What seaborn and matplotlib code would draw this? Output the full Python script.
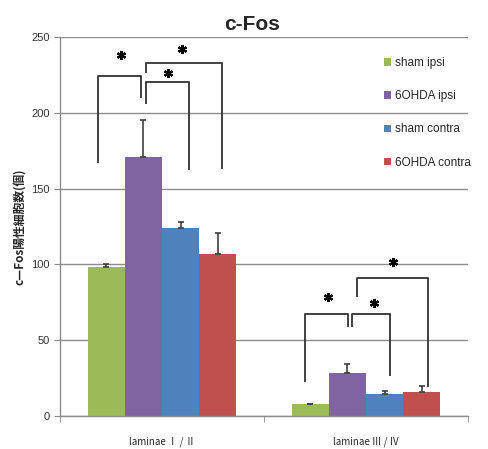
import matplotlib
matplotlib.use("Agg")
import matplotlib.pyplot as plt
import seaborn as sns
import pandas as pd
import numpy as np
from matplotlib.patches import Patch

categories = ["laminae Ⅰ / Ⅱ", "laminae Ⅲ / Ⅳ"]
groups = ["sham ipsi", "6OHDA ipsi", "sham contra", "6OHDA contra"]
sham_ipsi = [98, 7.7]
ohda_ipsi = [171, 28.6]
sham_contra = [124, 14.8]
ohda_contra = [107, 16]
err_sham_ipsi = [2, 0.5]
err_ohda_ipsi = [24, 6]
err_sham_contra = [4, 2]
err_ohda_contra = [14, 4]
colors = ["#9BBB59", "#8064A2", "#4F81BD", "#C0504D"]

values = [sham_ipsi, ohda_ipsi, sham_contra, ohda_contra]
errors = [err_sham_ipsi, err_ohda_ipsi, err_sham_contra, err_ohda_contra]
rows = []
for g, vals in zip(groups, values):
    for c, v in zip(categories, vals):
        rows.append({"cat": c, "group": g, "value": v})
df = pd.DataFrame(rows)

sns.set_style("white")
plt.rcParams["font.family"] = ["Liberation Sans", "DejaVu Sans", "Noto Sans CJK JP"]

fig = plt.figure(figsize=(4.89, 4.49), dpi=100)
ax = fig.add_axes([60/489, 1-416/449, 408/489, 379/449])

sns.barplot(data=df, x="cat", y="value", hue="group", order=categories,
            hue_order=groups, palette=colors, errorbar=None, width=0.73,
            saturation=1, ax=ax, legend=False, linewidth=0)

# error bars (upward only)
bar_conts = list(ax.containers)
centers = {}
for gi, cont in enumerate(bar_conts):
    xs = [p.get_x() + p.get_width()/2 for p in cont]
    hs = [p.get_height() for p in cont]
    centers[gi] = xs
    ax.errorbar(xs, hs, yerr=[np.zeros(len(hs)), errors[gi]], fmt="none",
                ecolor="#404040", elinewidth=1.2, capsize=2.5, capthick=1.2, zorder=3)

ax.set_ylim(0, 250)
ax.set_xlim(-0.5, 1.5)
ax.set_yticks(np.arange(0, 251, 50))
ax.yaxis.grid(True, color="#8c8c8c", linewidth=1)
ax.set_axisbelow(True)
for s in ["top", "right"]:
    ax.spines[s].set_visible(False)
for s in ["left", "bottom"]:
    ax.spines[s].set_color("#8c8c8c")
    ax.spines[s].set_linewidth(1)
ax.tick_params(axis="y", length=4, color="#8c8c8c", labelsize=8, labelcolor="#333333", left=True)
ax.set_xticks([-0.5, 0.5, 1.5], minor=True)
ax.tick_params(axis="x", which="minor", length=4, color="#8c8c8c", bottom=True)
ax.tick_params(axis="x", which="major", length=0, pad=15, labelsize=7)
for lab in ax.get_xticklabels():
    lab.set_family(["Noto Sans CJK JP", "DejaVu Sans"])
ax.set_xlabel("")
ax.set_ylabel("c—Fos陽性細胞数(個)", fontsize=8.5, fontweight="bold",
              family=["Noto Sans CJK JP", "DejaVu Sans"], labelpad=3)

fig.text(252/489, 1-24/449, "c-Fos", ha="center", va="center", fontsize=15,
         fontweight="bold")

# significance brackets
px = 1/204.0
def bracket(x1, y1, x2, y2, ytop, sx, sy):
    ax.plot([x1, x1, x2, x2], [y1, ytop, ytop, y2], color="#333333", lw=1.3,
            clip_on=False, zorder=4, solid_capstyle="butt")
    ax.plot([sx], [sy], marker=(6, 2, 0), ms=6.5, mew=1.6, color="black",
            clip_on=False, zorder=5)

c = centers
bracket(c[0][0]-8*px, 167, c[1][0]-2*px, 210, 224, c[0][0]+15*px, 238)
bracket(c[1][0]+3*px, 206, c[2][0]+8*px, 162, 220, c[1][0]+25*px, 226)
bracket(c[1][0]+3*px, 226, c[3][0]+4*px, 163, 233, c[1][0]+39*px, 242)

bracket(c[0][1]-5*px, 22.6, c[1][1]+0.5*px, 58.7, 67.3, c[0][1]+18*px, 78.5)
bracket(c[1][1]+5*px, 58.7, c[2][1]+5.5*px, 26.6, 67.3, c[1][1]+27*px, 74.5)
bracket(c[1][1]+9.5*px, 78.7, c[3][1]+6*px, 19.3, 91, c[1][1]+46*px, 101.8)

handles = [Patch(facecolor=col, edgecolor="none") for col in colors]
fig.legend(handles, groups, loc="upper left", bbox_to_anchor=(384/489, 1-57/449),
           frameon=False, fontsize=8.5, handlelength=0.6, handleheight=0.6,
           handletextpad=0.3, labelspacing=1.8, borderpad=0, borderaxespad=0)

fig.savefig("out.png", dpi=100)
